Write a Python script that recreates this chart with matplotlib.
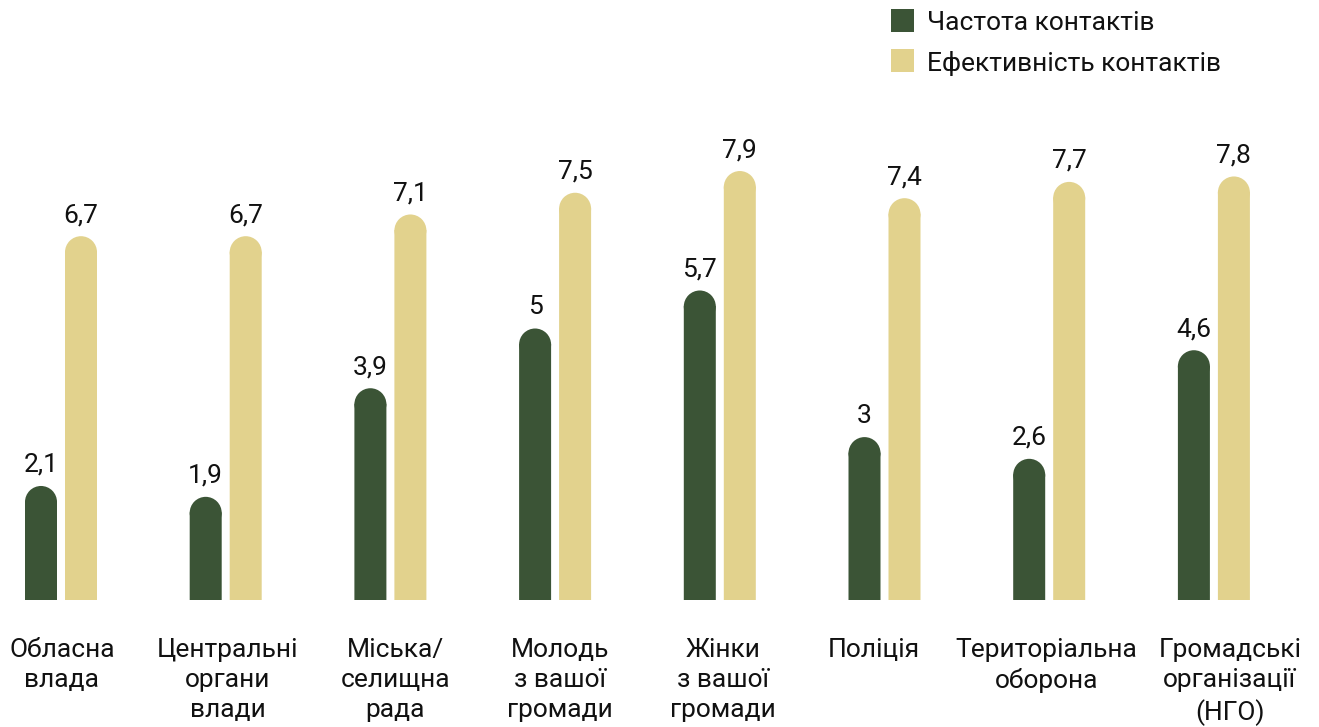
import matplotlib
matplotlib.use("Agg")
import matplotlib.pyplot as plt
from matplotlib.patches import Ellipse, Rectangle
import numpy as np

plt.rcParams['font.family'] = ['Roboto', 'DejaVu Sans']

categories = ["Обласна\nвлада", "Центральні\nоргани\nвлади", "Міська/\nселищна\nрада",
              "Молодь\nз вашої\nгромади", "Жінки\nз вашої\nгромади", "Поліція",
              "Територіальна\nоборона", "Громадські\nорганізації\n(НГО)"]
frequency = [2.1, 1.9, 3.9, 5.0, 5.7, 3.0, 2.6, 4.6]
effectiveness = [6.7, 6.7, 7.1, 7.5, 7.9, 7.4, 7.7, 7.8]
series_names = ["Частота контактів", "Ефективність контактів"]

GREEN = "#3b5436"
BEIGE = "#e2d28d"
TXT = "#111111"
FS = 19

W, H = 1319, 727
fig = plt.figure(figsize=(W / 100, H / 100), dpi=100)
ax = fig.add_axes([0, 0, 1, 1])

# pixel layout: group centre = 61 + 164.7*i, baseline at y=600, 54.3 px per unit
px_x, px_y = 164.7, 54.3
ax.set_xlim(-61 / px_x, (W - 61) / px_x)
ax.set_ylim((600 - H) / px_y, 600 / px_y)
ax.axis('off')

bw = 32 / px_x
off = 20 / px_x
r = (32 / 2) / px_y  # radius of rounded top in data units

def fmt(v):
    s = f"{v:.1f}".replace(".", ",")
    return s[:-2] if s.endswith(",0") else s

x = np.arange(len(categories))
for vals, color, sgn in [(frequency, GREEN, -1), (effectiveness, BEIGE, 1)]:
    xs = x + sgn * off
    ax.bar(xs, [v - r + 0.01 for v in vals], width=bw, color=color,
           linewidth=0, snap=False)
    for xi, v in zip(xs, vals):
        ax.add_patch(Ellipse((xi, v - r), bw, 2 * r, color=color, linewidth=0))
        ax.annotate(fmt(v), (xi, v), xytext=(0, 9), textcoords='offset pixels',
                    ha='center', va='bottom', fontsize=FS, color=TXT)

# category labels are not quite centred under their bars in the original
label_dx = [1, 2, 5, 5, 3, -11, -3, 16]
for xi, lab, dx in zip(x, categories, label_dx):
    ax.annotate(lab, (xi, -38 / px_y), xytext=(dx, 0), textcoords='offset pixels',
                ha='center', va='top', fontsize=FS, color=TXT, linespacing=1.32)

# legend
for i, (name, color) in enumerate(zip(series_names, [GREEN, BEIGE])):
    y0 = 9 + 40 * i
    fig.patches.append(Rectangle((891 / W, 1 - (y0 + 23) / H), 23 / W, 23 / H,
                                 transform=fig.transFigure, color=color, linewidth=0))
    fig.text(927 / W, 1 - (y0 + 14) / H, name, ha='left', va='center',
             fontsize=FS, color=TXT)

fig.savefig("out.png", dpi=100)
